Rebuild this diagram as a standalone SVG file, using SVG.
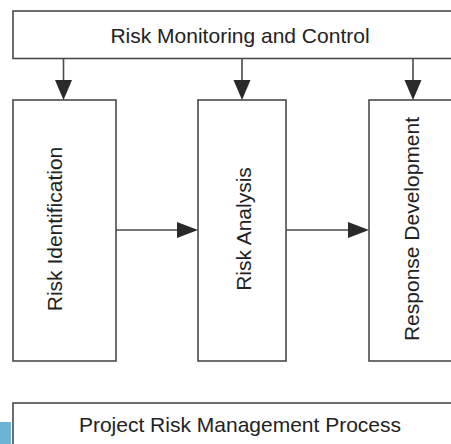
<svg xmlns="http://www.w3.org/2000/svg" width="451" height="444" viewBox="0 0 451 444">
  <style>
    .box { fill: #ffffff; stroke: #4a4a4a; stroke-width: 1.6; }
    .lbl { font-family: "Liberation Sans", Arial, Helvetica, sans-serif; font-size: 21px; fill: #222222; text-anchor: middle; }
    .conn { stroke: #4a4a4a; stroke-width: 1.6; fill: none; }
    .head { fill: #2a2a2a; }
  </style>
  <rect width="451" height="444" fill="#ffffff"/>

  <!-- small tab at lower left -->
  <rect x="0" y="422" width="11" height="22" fill="#6cb4d4"/>

  <g id="monitoring">
    <rect class="box" x="13" y="11" width="450" height="47.5"/>
    <text class="lbl" x="240" y="42.5">Risk Monitoring and Control</text>
  </g>

  <g id="identification">
    <rect class="box" x="13" y="100" width="103" height="261"/>
    <text class="lbl" transform="translate(61.7,229) rotate(-90)">Risk Identification</text>
  </g>

  <g id="analysis">
    <rect class="box" x="198" y="100" width="88" height="261"/>
    <text class="lbl" transform="translate(250.7,229) rotate(-90)">Risk Analysis</text>
  </g>

  <g id="response">
    <rect class="box" x="369" y="100" width="100" height="261"/>
    <text class="lbl" transform="translate(419.3,229) rotate(-90)">Response Development</text>
  </g>

  <g id="process">
    <rect class="box" x="13" y="403" width="450" height="60"/>
    <text class="lbl" x="240" y="432">Project Risk Management Process</text>
  </g>

  <g id="connectors">
    <!-- control box down to each stage -->
    <line class="conn" x1="63.5" y1="58.5" x2="63.5" y2="81"/>
    <polygon class="head" points="55,80 72,80 63.5,100"/>
    <line class="conn" x1="242" y1="58.5" x2="242" y2="81"/>
    <polygon class="head" points="233.5,80 250.5,80 242,100"/>
    <line class="conn" x1="413" y1="58.5" x2="413" y2="81"/>
    <polygon class="head" points="404.5,80 421.5,80 413,100"/>
    <!-- stage to stage -->
    <line class="conn" x1="116" y1="230" x2="178" y2="230"/>
    <polygon class="head" points="177,222 177,238 198,230"/>
    <line class="conn" x1="286" y1="230" x2="349" y2="230"/>
    <polygon class="head" points="348,222 348,238 369,230"/>
  </g>
</svg>
